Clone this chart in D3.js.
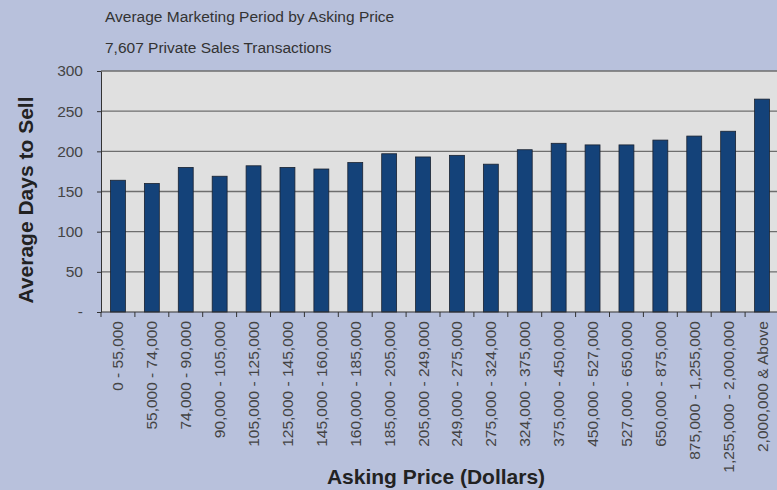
<!DOCTYPE html>
<html>
<head>
<meta charset="utf-8">
<script src="https://cdn.jsdelivr.net/npm/d3@7"></script>
<style>
  html, body { margin: 0; padding: 0; background: #b8c1dc; }
  svg { display: block; font-family: "Liberation Sans", Arial, sans-serif; }
</style>
</head>
<body>
<svg id="chart" width="777" height="490"></svg>
<script>
const priceRanges = [
  "0 - 55,000", "55,000 - 74,000", "74,000 - 90,000", "90,000 - 105,000",
  "105,000 - 125,000", "125,000 - 145,000", "145,000 - 160,000", "160,000 - 185,000",
  "185,000 - 205,000", "205,000 - 249,000", "249,000 - 275,000", "275,000 - 324,000",
  "324,000 - 375,000", "375,000 - 450,000", "450,000 - 527,000", "527,000 - 650,000",
  "650,000 - 875,000", "875,000 - 1,255,000", "1,255,000 - 2,000,000", "2,000,000 & Above",
]
const avgDays = [164, 160, 180, 169, 182, 180, 178, 186, 197, 193, 195, 184, 202, 210, 208, 208, 214, 219, 225, 265]
const yTicks = [0, 50, 100, 150, 200, 250, 300]

const svg = d3.select("#chart")
const m = {top: 71, left: 101, bottom: 178}
const height = 490
const iw = 678
const ih = height - m.top - m.bottom

const x = d3.scaleBand().domain(priceRanges).range([0, iw]).paddingInner(0.56).paddingOuter(0.28)
const y = d3.scaleLinear().domain([0, 300]).range([ih, 0])

svg.append("text")
  .attr("x", 105).attr("y", 22)
  .attr("font-size", 15.5).attr("fill", "#333")
  .text("Average Marketing Period by Asking Price")
svg.append("text")
  .attr("x", 105).attr("y", 53)
  .attr("font-size", 15.5).attr("fill", "#333")
  .text("7,607 Private Sales Transactions")

const g = svg.append("g").attr("transform", `translate(${m.left},${m.top})`)

g.append("rect").attr("width", iw).attr("height", ih).attr("fill", "#e0e0e0")

// gridlines
g.append("g")
  .selectAll("line")
  .data(yTicks.filter((d) => d > 0))
  .join("line")
  .attr("x1", 0).attr("x2", iw)
  .attr("y1", (d) => y(d)).attr("y2", (d) => y(d))
  .attr("stroke", "#6e6e6e").attr("stroke-width", 1.3)

g.append("g")
  .selectAll("rect")
  .data(avgDays)
  .join("rect")
  .attr("x", (d, i) => x(priceRanges[i]))
  .attr("y", (d) => y(d))
  .attr("width", x.bandwidth())
  .attr("height", (d) => ih - y(d))
  .attr("fill", "#144279")
  .attr("stroke", "#1a2230")
  .attr("stroke-width", 0.8)

// y axis
g.append("g")
  .call(d3.axisLeft(y).tickValues(yTicks).tickSize(4).tickSizeOuter(0)
    .tickFormat((d) => (d === 0 ? "-" : d)))
  .call((gg) => gg.select(".domain").attr("stroke", "#333"))
  .call((gg) => gg.selectAll(".tick line").attr("stroke", "#333"))
  .call((gg) => gg.selectAll("text")
    .attr("font-size", 15.5).attr("fill", "#444")
    .attr("x", -18).attr("font-family", "Liberation Sans, Arial, sans-serif"))

// x axis: ticks at band boundaries
const xa = g.append("g").attr("transform", `translate(0,${ih})`)
xa.append("line").attr("x1", 0).attr("x2", iw).attr("stroke", "#333").attr("stroke-width", 1.2)
xa.selectAll("line.tk")
  .data(priceRanges)
  .join("line")
  .attr("class", "tk")
  .attr("x1", (d) => x(d) - x.step() * x.paddingInner() / 2)
  .attr("x2", (d) => x(d) - x.step() * x.paddingInner() / 2)
  .attr("y1", 0).attr("y2", 5)
  .attr("stroke", "#333")
xa.selectAll("text")
  .data(priceRanges)
  .join("text")
  .attr("transform", (d) => `translate(${x(d) + x.bandwidth() / 2 + 5.5},9) rotate(-90)`)
  .attr("text-anchor", "end")
  .attr("font-size", 15.5).attr("fill", "#444")
  .text((d) => d)

svg.append("text")
  .attr("transform", `translate(33,200) rotate(-90)`)
  .attr("text-anchor", "middle")
  .attr("font-size", 21).attr("font-weight", "bold").attr("fill", "#222")
  .text("Average Days to Sell")

svg.append("text")
  .attr("x", 436).attr("y", 484)
  .attr("text-anchor", "middle")
  .attr("font-size", 21).attr("font-weight", "bold").attr("fill", "#222")
  .text("Asking Price (Dollars)")
</script>
</body>
</html>
